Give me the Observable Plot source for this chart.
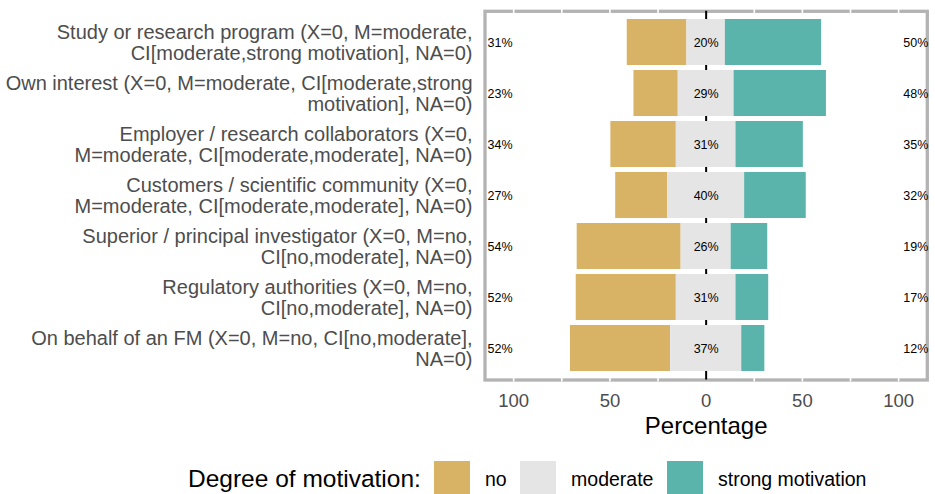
<!DOCTYPE html>
<html>
<head>
<meta charset="utf-8">
<script src="https://cdn.jsdelivr.net/npm/d3@7"></script>
<script src="https://cdn.jsdelivr.net/npm/@observablehq/plot@0.6"></script>
<style>
  body { margin: 0; background: #fff; font-family: "Liberation Sans", Arial, Helvetica, sans-serif; }
  #wrap { width: 935px; height: 494px; overflow: hidden; position: relative; }
  #legend { position: relative; width: 935px; height: 54px; }
  #legend .row { position: absolute; left: 188px; top: 21px; height: 36px; display: flex; align-items: center; white-space: nowrap; }
  #legend .title { font-size: 24.5px; color: #000; margin-right: 6px; }
  #legend .key { width: 36px; height: 36px; margin-left: 7px; }
  #legend .lab { font-size: 19.5px; color: #000; margin-left: 15px; margin-right: 6.5px; }
</style>
</head>
<body>
<div id="wrap"><div id="chart"></div><div id="legend"></div></div>
<script>
// ---- data ----
const categories = [
  "Study or research program (X=0, M=moderate,\nCI[moderate,strong motivation], NA=0)",
  "Own interest (X=0, M=moderate, CI[moderate,strong\nmotivation], NA=0)",
  "Employer / research collaborators (X=0,\nM=moderate, CI[moderate,moderate], NA=0)",
  "Customers / scientific community (X=0,\nM=moderate, CI[moderate,moderate], NA=0)",
  "Superior / principal investigator (X=0, M=no,\nCI[no,moderate], NA=0)",
  "Regulatory authorities (X=0, M=no,\nCI[no,moderate], NA=0)",
  "On behalf of an FM (X=0, M=no, CI[no,moderate],\nNA=0)"
];
const noPct = [31, 23, 34, 27, 54, 52, 52];
const moderatePct = [20, 29, 31, 40, 26, 31, 37];
const strongPct = [50, 48, 35, 32, 19, 17, 12];
const levels = ["no", "moderate", "strong motivation"];
const levelColors = ["#D8B365", "#E5E5E5", "#5AB4AC"];
const xTicks = [-100, -50, 0, 50, 100];
const gridTicks = [-100, -75, -50, -25, 25, 50, 75, 100];
const legendTitle = "Degree of motivation:";
const xTitle = "Percentage";

// ---- derived tables ----
const rows = categories.map((c, i) => ({cat: c, no: noPct[i], mod: moderatePct[i], strong: strongPct[i]}));
const segs = [];
rows.forEach(r => {
  const h = r.mod / 2;
  segs.push({cat: r.cat, level: levels[0], x1: -h - r.no, x2: -h});
  segs.push({cat: r.cat, level: levels[1], x1: -h, x2: h});
  segs.push({cat: r.cat, level: levels[2], x1: h, x2: h + r.strong});
});

const FONT = '"Liberation Sans", Arial, Helvetica, sans-serif';
const chart = Plot.plot({
  width: 935,
  height: 440,
  marginLeft: 484.5,
  marginRight: 8.2,
  marginTop: 10.8,
  marginBottom: 60.5,
  style: {fontFamily: FONT, background: "#fff", overflow: "visible"},
  x: {domain: [-114.9, 114.9]},
  y: {domain: categories, paddingInner: 0.1, paddingOuter: 0.125},
  color: {domain: levels, range: levelColors},
  marks: [
    Plot.frame({fill: "#fff", stroke: "#B3B3B3", strokeWidth: 3.3}),
    Plot.ruleX(gridTicks, {stroke: "#fff", strokeWidth: 1.6, insetTop: -2, insetBottom: -2}),
    Plot.ruleX([0], {stroke: "#000", strokeWidth: 2}),
    Plot.barX(segs, {y: "cat", x1: "x1", x2: "x2", fill: "level"}),
    Plot.text(rows, {y: "cat", frameAnchor: "left", textAnchor: "start", dx: 2.5, text: d => d.no + "%", fontSize: 12.5, fill: "#000"}),
    Plot.text(rows, {y: "cat", x: d => 0, textAnchor: "middle", text: d => d.mod + "%", fontSize: 12.5, fill: "#000"}),
    Plot.text(rows, {y: "cat", frameAnchor: "right", textAnchor: "end", dx: 1, text: d => d.strong + "%", fontSize: 12.5, fill: "#000"}),
    Plot.axisY({tickSize: 0, tickPadding: 12.5, fontSize: 20, lineHeight: 1.05, color: "#4D4D4D", label: null}),
    Plot.axisX({ticks: xTicks, tickSize: 0, tickPadding: 14, fontSize: 18.5, tickFormat: d => Math.abs(d), color: "#4D4D4D", label: null}),
    Plot.text([xTitle], {frameAnchor: "bottom", lineAnchor: "middle", dy: 46, fontSize: 24, fill: "#000"})
  ]
});
document.getElementById("chart").appendChild(chart);

// ---- legend (below the SVG) ----
const lg = document.getElementById("legend");
const row = document.createElement("div");
row.className = "row";
const t = document.createElement("span");
t.className = "title";
t.textContent = legendTitle;
row.appendChild(t);
levels.forEach((lv, i) => {
  const k = document.createElement("div");
  k.className = "key";
  k.style.background = levelColors[i];
  row.appendChild(k);
  const s = document.createElement("span");
  s.className = "lab";
  s.textContent = lv;
  row.appendChild(s);
});
lg.appendChild(row);
</script>
</body>
</html>
